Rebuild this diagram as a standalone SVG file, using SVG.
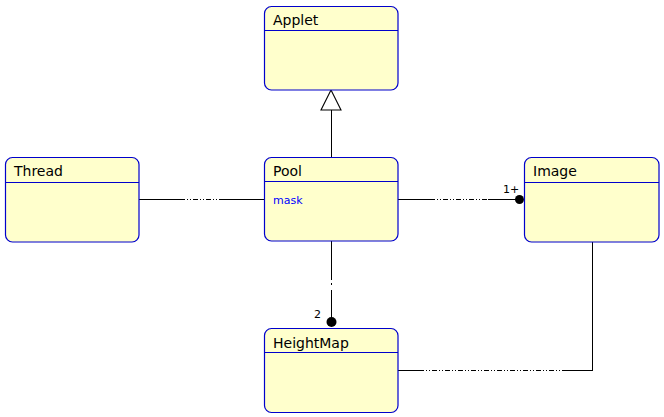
<svg xmlns="http://www.w3.org/2000/svg" width="664" height="417" viewBox="0 0 664 417">
<defs>
<style>
.box{fill:#FFFFCC;stroke:#0000CC;stroke-width:1.2}
.sep{stroke:#0000CC;stroke-width:1}
.name{font-family:"DejaVu Sans",sans-serif;font-size:14px;fill:#000}
.attr{font-family:"DejaVu Sans",sans-serif;font-size:11px;fill:#0000FF}
.lbl{font-family:"DejaVu Sans",sans-serif;font-size:11px;fill:#000}
.ln{stroke:#000;stroke-width:1;fill:none;shape-rendering:crispEdges}
.dd{stroke:#000;stroke-width:1;fill:none;stroke-dasharray:5 2 1 2 1 2;shape-rendering:crispEdges}
</style>
</defs>
<rect width="664" height="417" fill="#fff"/>
<g id="connectors">
<line class="ln" x1="331.5" y1="157" x2="331.5" y2="110"/>
<polygon points="331,90 321,110 341,110" fill="#fff" stroke="#000" stroke-width="1.1"/>
<line class="ln" x1="139" y1="199.5" x2="180" y2="199.5"/>
<line class="dd" x1="180" y1="199.5" x2="220" y2="199.5"/>
<line class="ln" x1="220" y1="199.5" x2="264" y2="199.5"/>
<line class="ln" x1="398" y1="199.5" x2="430" y2="199.5"/>
<line class="dd" x1="430" y1="199.5" x2="488" y2="199.5"/>
<line class="ln" x1="488" y1="199.5" x2="519" y2="199.5"/>
<circle cx="519.5" cy="199.5" r="4.5" fill="#000"/>
<text class="lbl" x="503" y="193">1+</text>
<line class="ln" x1="331.5" y1="241" x2="331.5" y2="280"/>
<line class="ln" x1="331.5" y1="283" x2="331.5" y2="285"/>
<line class="ln" x1="331.5" y1="290" x2="331.5" y2="322"/>
<circle cx="331.5" cy="322" r="5" fill="#000"/>
<text class="lbl" x="314" y="318">2</text>
<polyline class="ln" points="592.5,242 592.5,370.5 567,370.5"/>
<line class="dd" x1="567" y1="370.5" x2="423" y2="370.5"/>
<line class="ln" x1="423" y1="370.5" x2="398" y2="370.5"/>
</g>
<g id="Applet">
<rect class="box" x="264.5" y="6.5" width="133.5" height="83.5" rx="7"/>
<line class="sep" x1="264.5" y1="30.5" x2="398" y2="30.5"/>
<text class="name" x="273" y="25">Applet</text>
</g>
<g id="Thread">
<rect class="box" x="5.5" y="157.5" width="133.5" height="84.5" rx="7"/>
<line class="sep" x1="5.5" y1="182.5" x2="139" y2="182.5"/>
<text class="name" x="14" y="176">Thread</text>
</g>
<g id="Pool">
<rect class="box" x="264.5" y="157.5" width="133.5" height="83.5" rx="7"/>
<line class="sep" x1="264.5" y1="181.5" x2="398" y2="181.5"/>
<text class="name" x="273" y="176">Pool</text>
<text class="attr" x="273" y="204">mask</text>
</g>
<g id="Image">
<rect class="box" x="524.5" y="157.5" width="134.5" height="84.5" rx="7"/>
<line class="sep" x1="524.5" y1="182.5" x2="659" y2="182.5"/>
<text class="name" x="533" y="176">Image</text>
</g>
<g id="HeightMap">
<rect class="box" x="264.5" y="328.5" width="133.5" height="84" rx="7"/>
<line class="sep" x1="264.5" y1="352.5" x2="398" y2="352.5"/>
<text class="name" x="273" y="348">HeightMap</text>
</g>
</svg>
